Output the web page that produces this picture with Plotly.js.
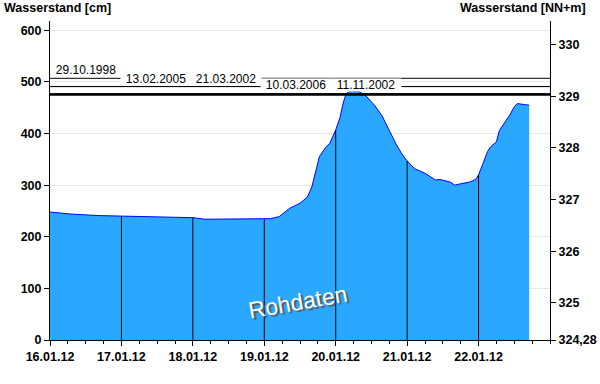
<!DOCTYPE html>
<html>
<head>
<meta charset="utf-8">
<script src="https://cdn.plot.ly/plotly-3.0.1.min.js"></script>
<style>html,body{margin:0;padding:0;background:#fff;}#chart{width:600px;height:384px;}</style>
</head>
<body>
<div id="chart"></div>
<script>
// Water level time series (cm)
const times = [
  '2012-01-16 00:00','2012-01-16 07:00','2012-01-16 16:30','2012-01-17 00:00','2012-01-17 11:00',
  '2012-01-18 00:00','2012-01-18 04:00','2012-01-18 22:00','2012-01-19 00:00','2012-01-19 02:00',
  '2012-01-19 05:00','2012-01-19 08:30','2012-01-19 12:00','2012-01-19 14:30','2012-01-19 16:00',
  '2012-01-19 17:30','2012-01-19 18:30','2012-01-19 20:30','2012-01-19 22:00','2012-01-20 00:00',
  '2012-01-20 01:30','2012-01-20 02:30','2012-01-20 03:30','2012-01-20 05:00','2012-01-20 07:30',
  '2012-01-20 10:00','2012-01-20 13:00','2012-01-20 15:30','2012-01-20 18:00','2012-01-20 20:30',
  '2012-01-20 22:30','2012-01-21 00:00','2012-01-21 02:30','2012-01-21 06:00','2012-01-21 09:30',
  '2012-01-21 11:00','2012-01-21 14:30','2012-01-21 16:00','2012-01-21 17:30','2012-01-21 21:00',
  '2012-01-21 23:00','2012-01-22 00:00','2012-01-22 01:30','2012-01-22 03:00','2012-01-22 04:00',
  '2012-01-22 06:00','2012-01-22 07:00','2012-01-22 09:00','2012-01-22 10:30','2012-01-22 12:00',
  '2012-01-22 13:00','2012-01-22 15:30','2012-01-22 17:00'
];
const levels = [
  248, 244, 241, 240, 238,
  237, 234, 234, 234, 235,
  239, 255, 265, 277, 297,
  329, 355, 372, 381, 407,
  432, 459, 477, 483, 482,
  474, 455, 435, 406, 377,
  358, 347, 332, 323, 310,
  311, 306, 300, 302, 306,
  311, 320, 342, 365, 374,
  384, 406, 423, 436, 452,
  458, 456, 455
];

// Day boundaries with vertical marker lines
const dropDays = ['2012-01-17 00:00','2012-01-18 00:00','2012-01-19 00:00','2012-01-20 00:00','2012-01-21 00:00','2012-01-22 00:00'];

// X tick labels
const dayTicks = ['2012-01-16','2012-01-17','2012-01-18','2012-01-19','2012-01-20','2012-01-21','2012-01-22'];
const dayLabels = ['16.01.12','17.01.12','18.01.12','19.01.12','20.01.12','21.01.12','22.01.12'];

// Left axis ticks (cm)
const leftTicks = [0,100,200,300,400,500,600];
// Right axis ticks (NN+m)
const rightTicks = [324.28,325,326,327,328,329,330];
const rightLabels = ['324,28','325','326','327','328','329','330'];

// Historic flood marks
const hhwDates = ['29.10.1998','13.02.2005','21.03.2002','10.03.2006','11.11.2002'];
const hhwLevels = [507, 491, 491, 476, 476];

const PNP = 324.28;
const yMax = 618;

const dropX = [], dropY = [];
dropDays.forEach(d => {
  const i = times.indexOf(d);
  dropX.push(d, d, null);
  dropY.push(0, levels[i], null);
});

const F = 'Liberation Sans, Arial, sans-serif';
const FS = 12.5;

const traces = [
  {
    x: times, y: levels, type: 'scatter', mode: 'lines',
    fill: 'tozeroy', fillcolor: '#2aa8ff',
    line: {color: '#0000ff', width: 1},
    hoverinfo: 'skip', showlegend: false
  },
  {
    x: dropX, y: dropY, type: 'scatter', mode: 'lines',
    line: {color: '#000000', width: 1},
    hoverinfo: 'skip', showlegend: false
  },
  {
    x: [times[0]], y: [PNP], yaxis: 'y2', type: 'scatter', mode: 'markers',
    marker: {opacity: 0}, hoverinfo: 'skip', showlegend: false
  }
];

const lowest = Math.min(...hhwLevels);
const shapes = hhwLevels.map(v => ({
  type: 'line', xref: 'paper', x0: 0, x1: 1, yref: 'y', y0: v, y1: v,
  line: {color: '#000000', width: v === lowest ? 2.2 : 1}, layer: 'above'
}));

const annotations = hhwDates.map((d, i) => ({
  text: d, xref: 'paper', x: i * 70 / 500, xanchor: 'left',
  yref: 'y', y: hhwLevels[i], yanchor: 'bottom', yshift: hhwLevels[i] === lowest ? 2 : 1,
  showarrow: false, bgcolor: '#ffffff', borderpad: 0,
  width: 70, height: 12, align: 'center', valign: 'middle',
  font: {family: F, size: 12, color: '#000000'}
}));

annotations.push(
  {
    text: 'Wasserstand [cm]', xref: 'paper', x: -0.096, xanchor: 'left',
    yref: 'paper', y: 1, yanchor: 'middle', yshift: 13, showarrow: false,
    font: {family: F, size: FS, color: '#000000', weight: 'bold'}
  },
  {
    text: 'Wasserstand [NN+m]', xref: 'paper', x: 1.076, xanchor: 'right',
    yref: 'paper', y: 1, yanchor: 'middle', yshift: 13, showarrow: false,
    font: {family: F, size: FS, color: '#000000', weight: 'bold'}
  },
  {
    text: 'Rohdaten', xref: 'paper', x: 0.496, yref: 'paper', y: 0.118,
    xanchor: 'center', yanchor: 'middle', showarrow: false, textangle: -10,
    font: {family: F, size: 23, color: '#ffffff', shadow: '2px 2px 1px #5a5a5a'}
  }
);

const layout = {
  width: 600, height: 384,
  margin: {l: 50, r: 50, t: 21, b: 44, pad: 0},
  paper_bgcolor: '#ffffff', plot_bgcolor: '#ffffff',
  showlegend: false,
  xaxis: {
    type: 'date', range: ['2012-01-16 00:00', '2012-01-23 00:00'],
    tickmode: 'array', tickvals: dayTicks, ticktext: dayLabels,
    ticks: 'outside', ticklen: 5, tickcolor: '#000', tickwidth: 1,
    minor: {dtick: 6 * 3600 * 1000, tick0: '2012-01-16', ticks: 'outside', ticklen: 3, tickcolor: '#000', showgrid: false},
    showline: true, linecolor: '#000', linewidth: 1,
    showgrid: false, zeroline: false,
    tickfont: {family: F, size: FS, color: '#000', weight: 'bold'}
  },
  yaxis: {
    range: [0, yMax], tickmode: 'array', tickvals: leftTicks,
    ticks: 'outside', ticklen: 5, tickcolor: '#000',
    showline: true, linecolor: '#000', linewidth: 1,
    showgrid: true, gridcolor: '#e8e8e8', gridwidth: 1, zeroline: false,
    tickfont: {family: F, size: FS, color: '#000', weight: 'bold'}
  },
  yaxis2: {
    overlaying: 'y', side: 'right',
    range: [PNP, PNP + yMax / 100], tickmode: 'array', tickvals: rightTicks, ticktext: rightLabels,
    ticks: 'outside', ticklen: 5, tickcolor: '#000',
    showline: true, linecolor: '#000', linewidth: 1,
    showgrid: false, zeroline: false,
    tickfont: {family: F, size: FS, color: '#000', weight: 'bold'}
  },
  shapes: shapes,
  annotations: annotations
};

Plotly.newPlot('chart', traces, layout, {staticPlot: true, displayModeBar: false});
</script>
</body>
</html>
